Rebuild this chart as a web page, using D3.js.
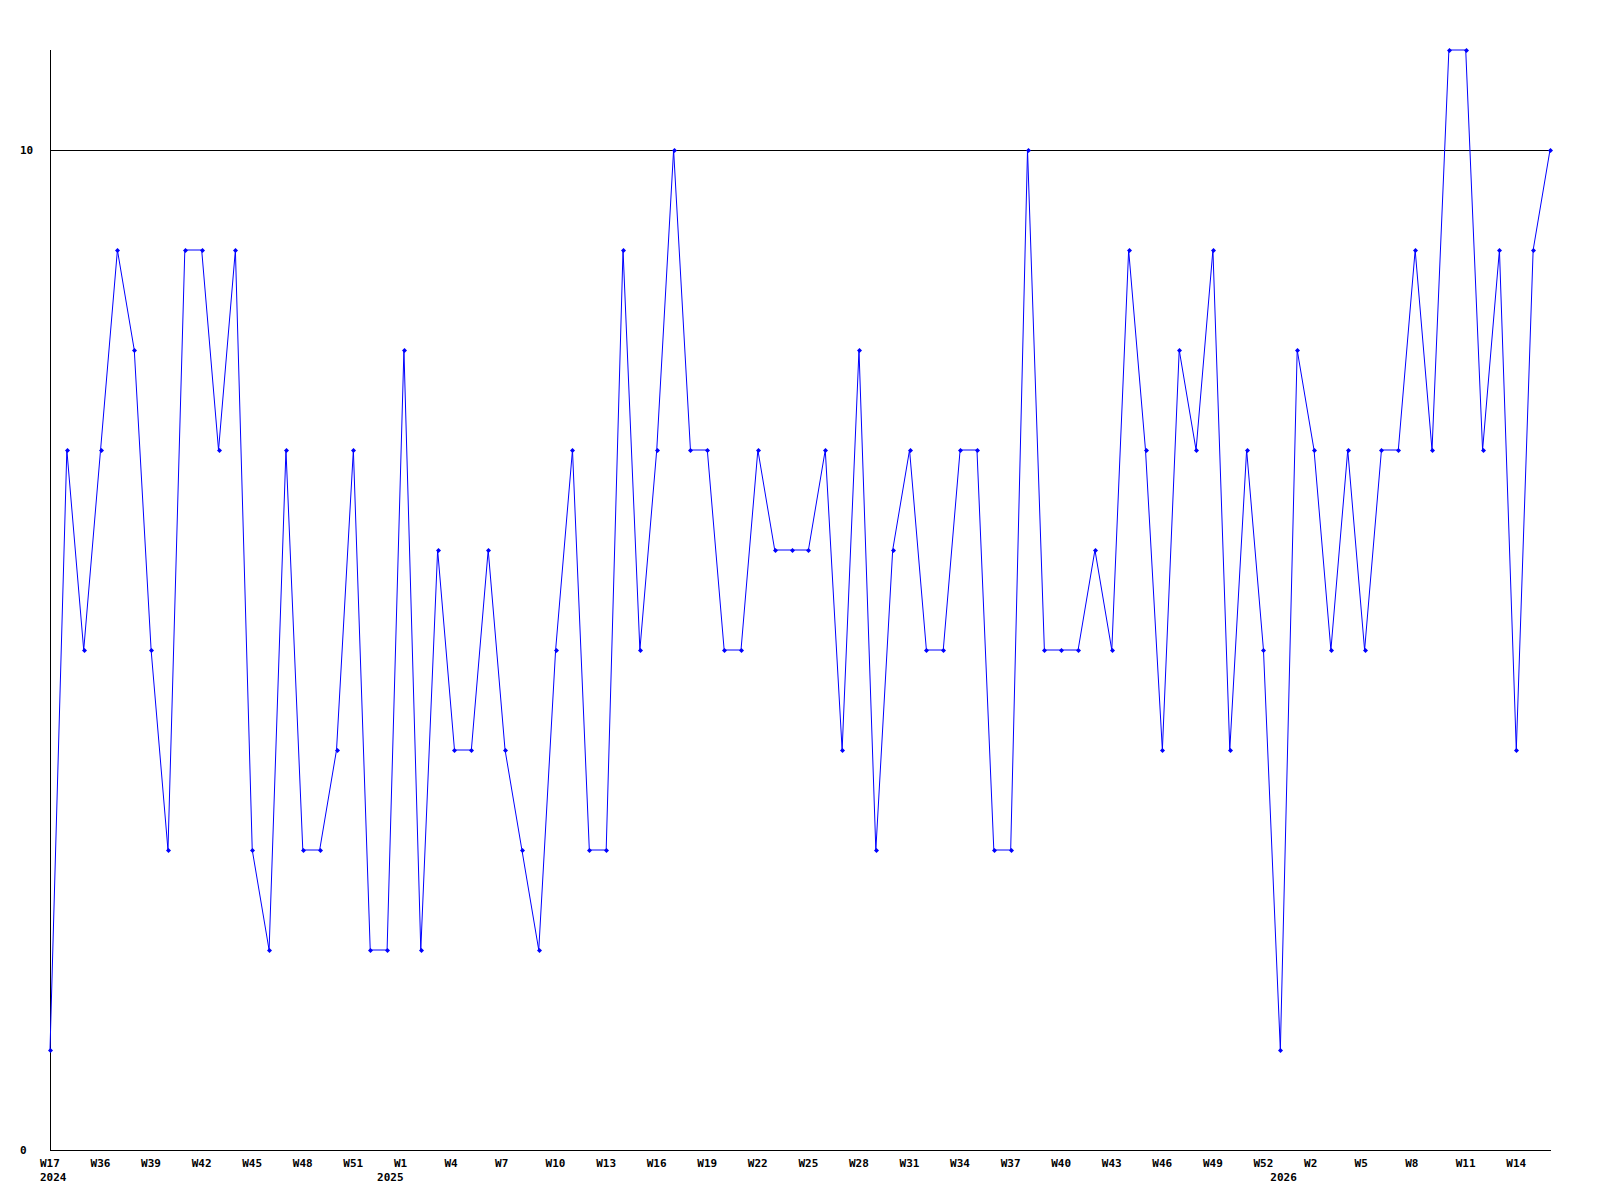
<!DOCTYPE html>
<html>
<head>
<meta charset="utf-8">
<script src="https://cdn.jsdelivr.net/npm/d3@7"></script>
<style>
  body { margin: 0; background: #fff; }
  text { font-family: "DejaVu Sans Mono", monospace; font-size: 11px; font-weight: bold; fill: #000; }
</style>
</head>
<body>
<script>
// weekly values, one per point
let values = [1, 7, 5, 7, 9, 8, 5, 3, 9, 9,
              7, 9, 3, 2, 7, 3, 3, 4, 7, 2,
              2, 8, 2, 6, 4, 4, 6, 4, 3, 2,
              5, 7, 3, 3, 9, 5, 7, 10, 7, 7,
              5, 5, 7, 6, 6, 6, 7, 4, 8, 3,
              6, 7, 5, 5, 7, 7, 3, 3, 10, 5,
              5, 5, 6, 5, 9, 7, 4, 8, 7, 9,
              4, 7, 5, 1, 8, 7, 5, 7, 5, 7,
              7, 9, 7, 11, 11, 7, 9, 4, 9, 10];

// x tick labels, every third point
let tickIdx = [0, 3, 6, 9, 12, 15, 18, 21, 24, 27, 30, 33, 36, 39, 42,
               45, 48, 51, 54, 57, 60, 63, 66, 69, 72, 75, 78, 81, 84, 87];
let tickLabels = ["W17", "W36", "W39", "W42", "W45", "W48", "W51", "W1", "W4", "W7",
                  "W10", "W13", "W16", "W19", "W22", "W25", "W28", "W31", "W34", "W37",
                  "W40", "W43", "W46", "W49", "W52", "W2", "W5", "W8", "W11", "W14"];

// year labels under the week labels
let yearIdx = [0, 20, 73];
let yearLabels = ["2024", "2025", "2026"];

let yTicks = [0, 10];

// dimensions
let width = 1600, height = 1200;
let margin = {left: 50, right: 1550, top: 50, bottom: 1150};

let xScale = d3.scaleLinear().domain([0, values.length - 1]).range([margin.left, margin.right]);
let yScale = d3.scaleLinear().domain([0, 11]).range([margin.bottom, margin.top]);

let svg = d3.select("body").append("svg")
    .attr("width", width)
    .attr("height", height);

// horizontal line at 10
svg.selectAll(".grid")
    .data(yTicks.filter(function(d) { return d > 0; }))
  .enter().append("line")
    .attr("x1", margin.left).attr("x2", margin.right)
    .attr("y1", function(d) { return Math.round(yScale(d)) + 0.5; })
    .attr("y2", function(d) { return Math.round(yScale(d)) + 0.5; })
    .attr("stroke", "#000")
    .attr("shape-rendering", "crispEdges");

// axes lines
svg.append("line")
    .attr("x1", margin.left + 0.5).attr("x2", margin.left + 0.5)
    .attr("y1", margin.top).attr("y2", margin.bottom + 1)
    .attr("stroke", "#000").attr("shape-rendering", "crispEdges");
svg.append("line")
    .attr("x1", margin.left).attr("x2", margin.right + 1)
    .attr("y1", margin.bottom + 0.5).attr("y2", margin.bottom + 0.5)
    .attr("stroke", "#000").attr("shape-rendering", "crispEdges");

// y labels
svg.selectAll(".ylab")
    .data(yTicks)
  .enter().append("text")
    .attr("x", 20)
    .attr("y", function(d) { return yScale(d); })
    .attr("dy", "0.35em")
    .text(function(d) { return d; });

// x labels (left edge sits 10px before the point)
svg.selectAll(".xlab")
    .data(tickIdx)
  .enter().append("text")
    .attr("x", function(d) { return xScale(d) - 10; })
    .attr("y", 1167)
    .text(function(d, i) { return tickLabels[i]; });

svg.selectAll(".yearlab")
    .data(yearIdx)
  .enter().append("text")
    .attr("x", function(d) { return xScale(d) - 10; })
    .attr("y", 1181)
    .text(function(d, i) { return yearLabels[i]; });

// the series line
let line = d3.line()
    .x(function(d, i) { return xScale(i); })
    .y(function(d) { return yScale(d); });

svg.append("path")
    .datum(values)
    .attr("d", line)
    .attr("fill", "none")
    .attr("stroke", "#0000ff")
    .attr("stroke-width", 1);

// small diamond markers
svg.selectAll(".pt")
    .data(values)
  .enter().append("path")
    .attr("d", function(d, i) {
        let x = Math.round(xScale(i)) + 0.5, y = Math.round(yScale(d)) + 0.5;
        return "M" + (x - 2.5) + "," + y + "L" + x + "," + (y - 2.5) + "L" + (x + 2.5) + "," + y + "L" + x + "," + (y + 2.5) + "Z";
    })
    .attr("fill", "#0000ff");
</script>
</body>
</html>
